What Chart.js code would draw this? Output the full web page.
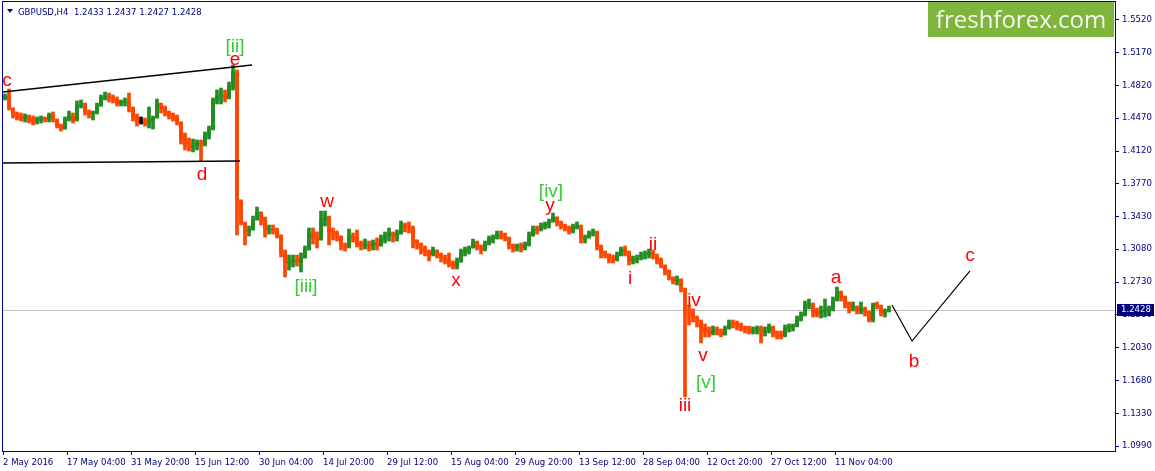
<!DOCTYPE html>
<html>
<head>
<meta charset="utf-8">
<title>GBPUSD H4</title>
<script src="https://cdn.jsdelivr.net/npm/chart.js@4.4.1/dist/chart.umd.min.js"></script>
<style>
  html, body { margin: 0; padding: 0; background: #ffffff; }
  #wrap { width: 1155px; height: 471px; position: relative; }
</style>
</head>
<body>
<div id="wrap"><canvas id="chart" width="1155" height="471"></canvas></div>
<script>
// header of the chart window
const symbolName = "GBPUSD,H4";
const lastBarOHLC = [1.2433, 1.2437, 1.2427, 1.2428];

// one candle here = 4 bars H4
const barsPerCandle = 4;
const barsPerDateLabel = 64;
const firstOpen = 1.4682;

const closes = [
  1.4704, 1.4576, 1.4502, 1.4481, 1.4470, 1.4481, 1.4449, 1.4438, 1.4459, 1.4470,
  1.4459, 1.4502, 1.4449, 1.4385, 1.4353, 1.4459, 1.4491, 1.4449, 1.4608, 1.4619,
  1.4534, 1.4513, 1.4523, 1.4597, 1.4682, 1.4704, 1.4682, 1.4661, 1.4629, 1.4640,
  1.4651, 1.4576, 1.4481, 1.4428, 1.4428, 1.4417, 1.4449, 1.4470, 1.4619, 1.4576,
  1.4534, 1.4502, 1.4470, 1.4428, 1.4258, 1.4184, 1.4163, 1.4173, 1.4205, 1.4194,
  1.4290, 1.4353, 1.4661, 1.4704, 1.4714, 1.4682, 1.4810, 1.4958, 1.3600, 1.3356,
  1.3261, 1.3282, 1.3388, 1.3473, 1.3409, 1.3282, 1.3292, 1.3271, 1.3229, 1.3048,
  1.2932, 1.2942, 1.2964, 1.2942, 1.2985, 1.3070, 1.3250, 1.3197, 1.3176, 1.3388,
  1.3420, 1.3261, 1.3250, 1.3218, 1.3112, 1.3101, 1.3218, 1.3197, 1.3133, 1.3112,
  1.3133, 1.3123, 1.3144, 1.3112, 1.3186, 1.3218, 1.3250, 1.3218, 1.3239, 1.3335,
  1.3314, 1.3303, 1.3176, 1.3133, 1.3091, 1.3059, 1.3016, 1.3070, 1.3016, 1.2985,
  1.2964, 1.2921, 1.2900, 1.2942, 1.3048, 1.3070, 1.3091, 1.3154, 1.3101, 1.3080,
  1.3133, 1.3186, 1.3197, 1.3239, 1.3229, 1.3197, 1.3123, 1.3101, 1.3112, 1.3091,
  1.3123, 1.3218, 1.3292, 1.3282, 1.3324, 1.3345, 1.3367, 1.3420, 1.3367, 1.3324,
  1.3303, 1.3271, 1.3314, 1.3324, 1.3186, 1.3197, 1.3250, 1.3261, 1.3112, 1.3048,
  1.3027, 1.2974, 1.2964, 1.3016, 1.3080, 1.3048, 1.2953, 1.2974, 1.2985, 1.3016,
  1.3027, 1.3048, 1.3006, 1.2964, 1.2910, 1.2847, 1.2783, 1.2741, 1.2762, 1.2656,
  1.2412, 1.2401, 1.2348, 1.2306, 1.2242, 1.2200, 1.2189, 1.2221, 1.2210, 1.2168,
  1.2232, 1.2295, 1.2285, 1.2263, 1.2253, 1.2232, 1.2210, 1.2221, 1.2242, 1.2200,
  1.2221, 1.2253, 1.2189, 1.2168, 1.2157, 1.2242, 1.2253, 1.2263, 1.2327, 1.2380,
  1.2486, 1.2497, 1.2412, 1.2401, 1.2422, 1.2433, 1.2444, 1.2539, 1.2624, 1.2571,
  1.2507, 1.2465, 1.2475, 1.2433, 1.2444, 1.2412, 1.2327, 1.2497, 1.2475, 1.2401,
  1.2422, 1.2428
];

const highs = [
  1.4725, 1.4778, 1.4576, 1.4534, 1.4523, 1.4513, 1.4502, 1.4491, 1.4481, 1.4491,
  1.4481, 1.4523, 1.4534, 1.4459, 1.4406, 1.4481, 1.4544, 1.4523, 1.4651, 1.4661,
  1.4629, 1.4555, 1.4544, 1.4629, 1.4714, 1.4746, 1.4735, 1.4714, 1.4693, 1.4661,
  1.4682, 1.4735, 1.4587, 1.4513, 1.4481, 1.4470, 1.4587, 1.4491, 1.4672, 1.4629,
  1.4597, 1.4544, 1.4523, 1.4502, 1.4428, 1.4311, 1.4258, 1.4247, 1.4237, 1.4237,
  1.4322, 1.4385, 1.4682, 1.4767, 1.4788, 1.4767, 1.4852, 1.5033, 1.4980, 1.3600,
  1.3367, 1.3324, 1.3430, 1.3526, 1.3473, 1.3420, 1.3335, 1.3335, 1.3303, 1.3229,
  1.3070, 1.3016, 1.3016, 1.3016, 1.3038, 1.3112, 1.3303, 1.3303, 1.3261, 1.3483,
  1.3483, 1.3430, 1.3303, 1.3271, 1.3218, 1.3144, 1.3292, 1.3250, 1.3282, 1.3165,
  1.3186, 1.3165, 1.3176, 1.3197, 1.3229, 1.3261, 1.3303, 1.3261, 1.3282, 1.3377,
  1.3356, 1.3367, 1.3324, 1.3176, 1.3144, 1.3112, 1.3070, 1.3101, 1.3070, 1.3038,
  1.3016, 1.3038, 1.2953, 1.2985, 1.3080, 1.3101, 1.3112, 1.3186, 1.3165, 1.3123,
  1.3165, 1.3218, 1.3229, 1.3271, 1.3271, 1.3250, 1.3207, 1.3133, 1.3133, 1.3144,
  1.3154, 1.3261, 1.3324, 1.3324, 1.3356, 1.3367, 1.3398, 1.3462, 1.3420, 1.3377,
  1.3345, 1.3324, 1.3345, 1.3367, 1.3335, 1.3229, 1.3271, 1.3292, 1.3271, 1.3123,
  1.3059, 1.3027, 1.3016, 1.3048, 1.3101, 1.3112, 1.3059, 1.3006, 1.3016, 1.3048,
  1.3059, 1.3080, 1.3070, 1.3027, 1.2985, 1.2910, 1.2857, 1.2783, 1.2794, 1.2762,
  1.2666, 1.2486, 1.2444, 1.2369, 1.2327, 1.2285, 1.2253, 1.2263, 1.2253, 1.2232,
  1.2263, 1.2327, 1.2327, 1.2316, 1.2295, 1.2263, 1.2263, 1.2253, 1.2263, 1.2263,
  1.2253, 1.2285, 1.2263, 1.2210, 1.2210, 1.2274, 1.2285, 1.2285, 1.2369, 1.2412,
  1.2528, 1.2550, 1.2507, 1.2454, 1.2475, 1.2550, 1.2475, 1.2571, 1.2677, 1.2635,
  1.2582, 1.2518, 1.2518, 1.2475, 1.2518, 1.2465, 1.2422, 1.2507, 1.2518, 1.2486,
  1.2444, 1.2475
];

const lows = [
  1.4661, 1.4555, 1.4470, 1.4449, 1.4438, 1.4428, 1.4417, 1.4396, 1.4406, 1.4417,
  1.4428, 1.4428, 1.4428, 1.4364, 1.4332, 1.4353, 1.4438, 1.4417, 1.4438, 1.4576,
  1.4502, 1.4470, 1.4449, 1.4513, 1.4597, 1.4661, 1.4640, 1.4629, 1.4597, 1.4597,
  1.4597, 1.4534, 1.4438, 1.4385, 1.4406, 1.4385, 1.4364, 1.4353, 1.4470, 1.4523,
  1.4491, 1.4459, 1.4438, 1.4396, 1.4194, 1.4131, 1.4120, 1.4110, 1.4131, 1.4014,
  1.4173, 1.4247, 1.4343, 1.4619, 1.4619, 1.4640, 1.4672, 1.4767, 1.3229, 1.3335,
  1.3123, 1.3218, 1.3282, 1.3388, 1.3335, 1.3207, 1.3239, 1.3239, 1.3197, 1.2995,
  1.2783, 1.2857, 1.2889, 1.2900, 1.2836, 1.2985, 1.3070, 1.3133, 1.3091, 1.3176,
  1.3324, 1.3123, 1.3176, 1.3165, 1.3070, 1.3059, 1.3091, 1.3154, 1.3101, 1.3070,
  1.3080, 1.3059, 1.3070, 1.3070, 1.3112, 1.3144, 1.3165, 1.3154, 1.3165, 1.3239,
  1.3261, 1.3250, 1.3091, 1.3080, 1.3027, 1.3006, 1.2953, 1.3006, 1.2985, 1.2942,
  1.2921, 1.2889, 1.2868, 1.2868, 1.2942, 1.3006, 1.3027, 1.3091, 1.3070, 1.3027,
  1.3059, 1.3123, 1.3144, 1.3186, 1.3186, 1.3165, 1.3080, 1.3048, 1.3059, 1.3048,
  1.3070, 1.3112, 1.3218, 1.3239, 1.3271, 1.3292, 1.3303, 1.3367, 1.3324, 1.3292,
  1.3271, 1.3239, 1.3250, 1.3292, 1.3144, 1.3144, 1.3197, 1.3218, 1.3070, 1.2985,
  1.2985, 1.2932, 1.2932, 1.2953, 1.3006, 1.3006, 1.2910, 1.2921, 1.2932, 1.2964,
  1.2974, 1.2985, 1.2974, 1.2921, 1.2879, 1.2804, 1.2751, 1.2709, 1.2698, 1.2624,
  1.1510, 1.2274, 1.2306, 1.2253, 1.2083, 1.2147, 1.2147, 1.2168, 1.2168, 1.2147,
  1.2168, 1.2232, 1.2242, 1.2221, 1.2210, 1.2189, 1.2178, 1.2178, 1.2178, 1.2083,
  1.2157, 1.2189, 1.2147, 1.2125, 1.2125, 1.2147, 1.2200, 1.2210, 1.2253, 1.2316,
  1.2369, 1.2444, 1.2359, 1.2359, 1.2348, 1.2359, 1.2369, 1.2422, 1.2528, 1.2528,
  1.2454, 1.2401, 1.2422, 1.2391, 1.2391, 1.2369, 1.2306, 1.2306, 1.2444, 1.2369,
  1.2359, 1.2412
];

const dateLabels = [
  "2 May 2016", "17 May 04:00", "31 May 20:00", "15 Jun 12:00", "30 Jun 04:00",
  "14 Jul 20:00", "29 Jul 12:00", "15 Aug 04:00", "29 Aug 20:00", "13 Sep 12:00",
  "28 Sep 04:00", "12 Oct 20:00", "27 Oct 12:00", "11 Nov 04:00"
];

const priceTicks = [1.5520, 1.5170, 1.4820, 1.4470, 1.4120, 1.3770, 1.3430,
  1.3080, 1.2730, 1.2380, 1.2030, 1.1680, 1.1330, 1.0990];

// lines drawn by hand on the chart (bar number, price)
const upperTrend = [{ x: 0, y: 1.4746 }, { x: 249, y: 1.5033 }];
const lowerTrend = [{ x: 0, y: 1.3993 }, { x: 237, y: 1.4014 }];
const forecastPath = [{ x: 889, y: 1.2486 }, { x: 909, y: 1.2104 }, { x: 967, y: 1.2847 }];

// wave marks: text, bar, price (baseline), degree
const waveMarks = [
  ["c", 4, 1.4810, "minor"], ["[ii]", 232, 1.5171, "major"], ["e", 232, 1.5033, "minor"],
  ["d", 199, 1.3812, "minor"], ["w", 324, 1.3526, "minor"], ["[iii]", 303, 1.2624, "major"],
  ["x", 453, 1.2688, "minor"], ["[iv]", 548, 1.3632, "major"], ["y", 547, 1.3483, "minor"],
  ["ii", 650, 1.3070, "minor"], ["i", 627, 1.2709, "minor"], ["iv", 691, 1.2475, "minor"],
  ["v", 700, 1.1892, "minor"], ["[v]", 703, 1.1606, "major"], ["iii", 682, 1.1361, "minor"],
  ["a", 833, 1.2719, "minor"], ["b", 911, 1.1828, "minor"], ["c", 967, 1.2953, "minor"]
];

const UP = "#228b22", DOWN = "#ff4500", DOJI = "#000000";
const NAVY = "#000080";
const AXIS_FONT = '"DejaVu Sans Condensed", "Liberation Sans", sans-serif';
const AXIS_SIZE = 9.5;

// construire les bougies (ouverture = cloture precedente)
const bodies = [], wicks = [], colors = [];
closes.forEach((c, i) => {
  const o = i === 0 ? firstOpen : closes[i - 1];
  const x = i * barsPerCandle + barsPerCandle / 2;
  bodies.push({ x: x, y: [o, c] });
  wicks.push({ x: x, y: [lows[i], highs[i]] });
  colors.push(c > o ? UP : (c < o ? DOWN : DOJI));
});

const overlay = {
  id: "overlay",
  beforeDatasetsDraw(chart) {
    const { ctx, chartArea: a, scales: { y } } = chart;
    const py = Math.round(y.getPixelForValue(lastBarOHLC[3])) + 0.5;
    ctx.save();
    ctx.strokeStyle = "#c0c0c0";
    ctx.lineWidth = 1;
    ctx.beginPath();
    ctx.moveTo(a.left, py);
    ctx.lineTo(a.right, py);
    ctx.stroke();
    ctx.restore();
  },
  afterDraw(chart) {
    const { ctx, chartArea: a, scales: { x, y } } = chart;
    ctx.save();

    // marques de vagues
    ctx.font = '19px "Liberation Sans", Arial, sans-serif';
    ctx.textAlign = "center";
    ctx.textBaseline = "alphabetic";
    waveMarks.forEach(([t, bar, price, degree]) => {
      ctx.fillStyle = degree === "major" ? "#32cd32" : "#ff0000";
      ctx.fillText(t, x.getPixelForValue(bar), y.getPixelForValue(price));
    });

    // cadre
    ctx.strokeStyle = "#00008b";
    ctx.lineWidth = 1;
    ctx.strokeRect(a.left - 0.5, a.top - 0.5, a.right - a.left + 1, a.bottom - a.top + 1);

    // titre
    ctx.fillStyle = NAVY;
    ctx.beginPath();
    ctx.moveTo(7, 9);
    ctx.lineTo(13, 9);
    ctx.lineTo(10, 13);
    ctx.closePath();
    ctx.fill();
    ctx.font = AXIS_SIZE + "px " + AXIS_FONT;
    ctx.textAlign = "left";
    ctx.fillText(symbolName + "  " + lastBarOHLC.map(v => v.toFixed(4)).join(" "), 18, 15);

    // logo
    ctx.fillStyle = "#80b53b";
    ctx.fillRect(928, 2, 186, 35);
    ctx.fillStyle = "#f4f7ee";
    ctx.font = '24px "Open Sans", sans-serif';
    ctx.textAlign = "center";
    ctx.fillText("freshforex.com", 1021, 28);

    // prix courant
    const py = Math.round(y.getPixelForValue(lastBarOHLC[3]));
    ctx.fillStyle = NAVY;
    ctx.fillRect(a.right + 2, py - 6, 37, 12);
    ctx.fillStyle = "#ffffff";
    ctx.font = AXIS_SIZE + "px " + AXIS_FONT;
    ctx.textAlign = "left";
    ctx.textBaseline = "middle";
    ctx.fillText(lastBarOHLC[3].toFixed(4), a.right + 6, py);
    ctx.restore();
  }
};

new Chart(document.getElementById("chart"), {
  type: "bar",
  data: {
    datasets: [
      { type: "line", data: upperTrend, borderColor: "#000", borderWidth: 1.5, pointRadius: 0, order: 0 },
      { type: "line", data: lowerTrend, borderColor: "#000", borderWidth: 1.5, pointRadius: 0, order: 0 },
      { type: "line", data: forecastPath, borderColor: "#000", borderWidth: 1.2, pointRadius: 0, order: 0 },
      { data: bodies, backgroundColor: colors, barThickness: 3, minBarLength: 1, grouped: false, order: 1 },
      { data: wicks, backgroundColor: colors, barThickness: 3, grouped: false, order: 2 }
    ]
  },
  options: {
    responsive: false,
    animation: false,
    devicePixelRatio: 1,
    events: [],
    layout: { padding: { left: 3, top: 2, right: 0, bottom: 0 } },
    plugins: { legend: { display: false }, tooltip: { enabled: false } },
    scales: {
      x: {
        type: "linear",
        min: 0,
        max: 1112,
        offset: false,
        afterBuildTicks: (s) => { s.ticks = dateLabels.map((_, k) => ({ value: k * barsPerDateLabel })); },
        afterFit: (s) => { s.height = 20; s.paddingLeft = 0; s.paddingRight = 0; },
        ticks: {
          autoSkip: false, maxRotation: 0, align: "start", padding: 2, color: NAVY,
          font: { family: AXIS_FONT, size: AXIS_SIZE },
          callback: (v) => dateLabels[Math.round(v / barsPerDateLabel)]
        },
        grid: { drawOnChartArea: false, drawTicks: true, tickLength: 4, color: "#00008b", offset: false },
        border: { display: false }
      },
      y: {
        position: "right",
        min: 1.0937,
        max: 1.5701,
        afterBuildTicks: (s) => { s.ticks = priceTicks.map(v => ({ value: v })); },
        afterFit: (s) => { s.width = 40; s.paddingTop = 0; s.paddingBottom = 0; },
        ticks: {
          padding: 3, color: NAVY, font: { family: AXIS_FONT, size: AXIS_SIZE },
          callback: (v) => Number(v).toFixed(4)
        },
        grid: { drawOnChartArea: false, drawTicks: true, tickLength: 4, color: "#00008b" },
        border: { display: false }
      }
    }
  },
  plugins: [overlay]
});
</script>
</body>
</html>
